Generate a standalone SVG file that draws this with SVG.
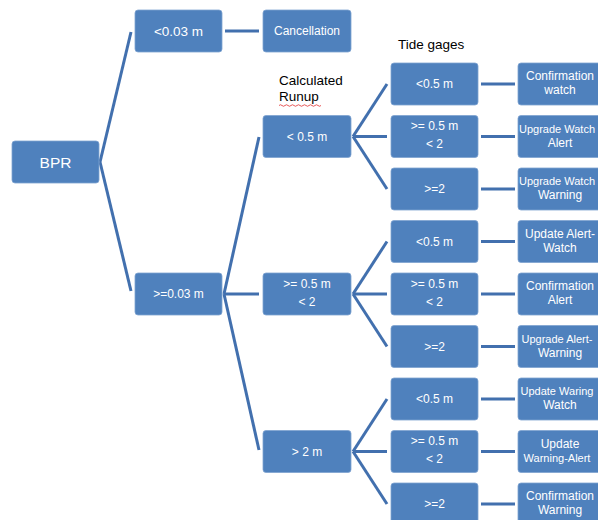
<svg xmlns="http://www.w3.org/2000/svg" width="598" height="520" viewBox="0 0 598 520">
<style>
.box{fill:#4F81BD;stroke:#7FA3D1;stroke-width:0.8}
.t{fill:#FFFFFF;font-family:"Liberation Sans",Arial,sans-serif;font-size:12px;text-anchor:middle}
.tl{font-size:11px}
.big{font-size:13.5px}
.bpr{font-size:15.5px}
.hdr{fill:#000000;font-family:"Liberation Sans",Arial,sans-serif;font-size:13.5px}
.c{stroke:#4270AE;stroke-width:3;fill:none;stroke-linecap:butt}
</style>
<rect width="598" height="520" fill="#FFFFFF"/>
<g id="connectors">
<line class="c" x1="100" y1="162" x2="131" y2="32"/>
<line class="c" x1="100" y1="162" x2="131" y2="291"/>
<line class="c" x1="225" y1="31" x2="259" y2="31"/>
<line class="c" x1="224" y1="294" x2="259" y2="137"/>
<line class="c" x1="224" y1="294" x2="259" y2="294"/>
<line class="c" x1="224" y1="294" x2="259" y2="450"/>
<line class="c" x1="353" y1="136.5" x2="387" y2="84"/>
<line class="c" x1="353" y1="136.5" x2="387" y2="136.5"/>
<line class="c" x1="353" y1="136.5" x2="387" y2="189"/>
<line class="c" x1="353" y1="294" x2="387" y2="241.5"/>
<line class="c" x1="353" y1="294" x2="387" y2="294"/>
<line class="c" x1="353" y1="294" x2="387" y2="346.5"/>
<line class="c" x1="353" y1="451.5" x2="387" y2="399"/>
<line class="c" x1="353" y1="451.5" x2="387" y2="451.5"/>
<line class="c" x1="353" y1="451.5" x2="387" y2="504"/>
<line class="c" x1="481" y1="84" x2="515" y2="84"/>
<line class="c" x1="481" y1="136.5" x2="515" y2="136.5"/>
<line class="c" x1="481" y1="189" x2="515" y2="189"/>
<line class="c" x1="481" y1="241.5" x2="515" y2="241.5"/>
<line class="c" x1="481" y1="294" x2="515" y2="294"/>
<line class="c" x1="481" y1="346.5" x2="515" y2="346.5"/>
<line class="c" x1="481" y1="399" x2="515" y2="399"/>
<line class="c" x1="481" y1="451.5" x2="515" y2="451.5"/>
<line class="c" x1="481" y1="504" x2="515" y2="504"/>
</g>
<g id="labels">
<text class="hdr" x="398" y="49">Tide gages</text>
<text class="hdr" x="279" y="85">Calculated</text>
<text class="hdr" x="279" y="101">Runup</text>
<path d="M279,105.5 q1.5,-1.5 3,0 t3,0 t3,0 t3,0 t3,0 t3,0 t3,0 t3,0 t3,0 t3,0 t3,0 t3,0 t3,0 t3,0" fill="none" stroke="#E03030" stroke-width="0.8"/>
</g>
<g id="bpr"><rect class="box" x="12" y="141" width="87" height="42" rx="3"/><text class="t bpr" x="55.5" y="167.5">BPR</text></g>
<g id="lt003"><rect class="box" x="135" y="10" width="87" height="42" rx="3"/><text class="t big" x="178.5" y="36">&lt;0.03 m</text></g>
<g id="ge003"><rect class="box" x="135" y="273" width="87" height="42" rx="3"/><text class="t" x="178.5" y="298">&gt;=0.03 m</text></g>
<g id="cancel"><rect class="box" x="263" y="10" width="88" height="42" rx="3"/><text class="t" x="307" y="35">Cancellation</text></g>
<g id="run1"><rect class="box" x="263" y="115.5" width="88" height="42" rx="3"/><text class="t" x="307" y="141">&lt; 0.5 m</text></g>
<g id="run2"><rect class="box" x="263" y="273" width="88" height="42" rx="3"/><text class="t" x="307" y="287.5">&gt;= 0.5 m</text><text class="t" x="307" y="305.5">&lt; 2</text></g>
<g id="run3"><rect class="box" x="263" y="430.5" width="88" height="42" rx="3"/><text class="t" x="307" y="456">&gt; 2 m</text></g>
<g id="tg1"><rect class="box" x="391" y="63" width="87" height="42" rx="3"/><text class="t" x="434.5" y="88">&lt;0.5 m</text></g>
<g id="tg2"><rect class="box" x="391" y="115.5" width="87" height="42" rx="3"/><text class="t" x="434.5" y="129.5">&gt;= 0.5 m</text><text class="t" x="434.5" y="147.5">&lt; 2</text></g>
<g id="tg3"><rect class="box" x="391" y="168" width="87" height="42" rx="3"/><text class="t" x="434.5" y="193">&gt;=2</text></g>
<g id="tg4"><rect class="box" x="391" y="220.5" width="87" height="42" rx="3"/><text class="t" x="434.5" y="245.5">&lt;0.5 m</text></g>
<g id="tg5"><rect class="box" x="391" y="273" width="87" height="42" rx="3"/><text class="t" x="434.5" y="287.5">&gt;= 0.5 m</text><text class="t" x="434.5" y="305.5">&lt; 2</text></g>
<g id="tg6"><rect class="box" x="391" y="325.5" width="87" height="42" rx="3"/><text class="t" x="434.5" y="350.5">&gt;=2</text></g>
<g id="tg7"><rect class="box" x="391" y="378" width="87" height="42" rx="3"/><text class="t" x="434.5" y="403">&lt;0.5 m</text></g>
<g id="tg8"><rect class="box" x="391" y="430.5" width="87" height="42" rx="3"/><text class="t" x="434.5" y="444.5">&gt;= 0.5 m</text><text class="t" x="434.5" y="462.5">&lt; 2</text></g>
<g id="tg9"><rect class="box" x="391" y="483" width="87" height="42" rx="3"/><text class="t" x="434.5" y="508">&gt;=2</text></g>
<g id="out1"><rect class="box" x="518" y="63" width="88" height="42" rx="3"/><text class="t" x="560" y="80">Confirmation</text><text class="t" x="560" y="94">watch</text></g>
<g id="out2"><rect class="box" x="518" y="115.5" width="88" height="42" rx="3"/><text class="t tl" x="557" y="132.5">Upgrade Watch</text><text class="t" x="560" y="146.5">Alert</text></g>
<g id="out3"><rect class="box" x="518" y="168" width="88" height="42" rx="3"/><text class="t tl" x="557" y="185">Upgrade Watch</text><text class="t" x="560" y="199">Warning</text></g>
<g id="out4"><rect class="box" x="518" y="220.5" width="88" height="42" rx="3"/><text class="t" x="560" y="237.5">Update Alert-</text><text class="t" x="560" y="251.5">Watch</text></g>
<g id="out5"><rect class="box" x="518" y="273" width="88" height="42" rx="3"/><text class="t" x="560" y="290">Confirmation</text><text class="t" x="560" y="304">Alert</text></g>
<g id="out6"><rect class="box" x="518" y="325.5" width="88" height="42" rx="3"/><text class="t tl" x="557" y="342.5">Upgrade Alert-</text><text class="t" x="560" y="356.5">Warning</text></g>
<g id="out7"><rect class="box" x="518" y="378" width="88" height="42" rx="3"/><text class="t tl" x="557" y="395">Update Waring</text><text class="t" x="560" y="409">Watch</text></g>
<g id="out8"><rect class="box" x="518" y="430.5" width="88" height="42" rx="3"/><text class="t" x="560" y="447.5">Update</text><text class="t tl" x="557" y="461.5">Warning-Alert</text></g>
<g id="out9"><rect class="box" x="518" y="483" width="88" height="42" rx="3"/><text class="t" x="560" y="500">Confirmation</text><text class="t" x="560" y="514">Warning</text></g>
</svg>
